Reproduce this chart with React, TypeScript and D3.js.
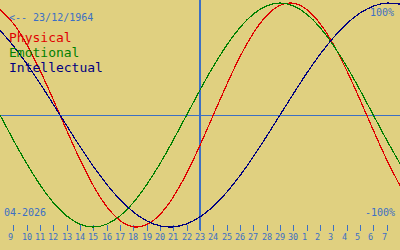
import React from "react";
import * as d3 from "d3";

// Days shown on the axis (April 9 .. May 7, 2026)
const dayLabels = [
  "9", "10", "11", "12", "13", "14", "15", "16", "17", "18", "19", "20", "21", "22",
  "23", "24", "25", "26", "27", "28", "29", "30", "1", "2", "3", "4", "5", "6", "7",
];

// Daily values from April 8 to May 8 (31 points)
const physical = [
  0.942, 0.817, 0.631, 0.398, 0.136, -0.136, -0.398, -0.631, -0.817, -0.942, -0.998,
  -0.979, -0.888, -0.731, -0.52, -0.27, 0, 0.27, 0.52, 0.731, 0.888, 0.979, 0.998,
  0.942, 0.817, 0.631, 0.398, 0.136, -0.136, -0.398, -0.631,
];
const emotional = [
  0, -0.223, -0.434, -0.623, -0.782, -0.901, -0.975, -1, -0.975, -0.901, -0.782,
  -0.623, -0.434, -0.223, 0, 0.223, 0.434, 0.623, 0.782, 0.901, 0.975, 1, 0.975,
  0.901, 0.782, 0.623, 0.434, 0.223, 0, -0.223, -0.434,
];
const intellectual = [
  0.756, 0.618, 0.458, 0.282, 0.095, -0.095, -0.282, -0.458, -0.618, -0.756, -0.866,
  -0.945, -0.99, -0.999, -0.972, -0.91, -0.815, -0.69, -0.541, -0.372, -0.189, 0,
  0.189, 0.372, 0.541, 0.69, 0.815, 0.91, 0.972, 0.999, 0.99,
];

const seriesNames = ["Physical", "Emotional", "Intellectual"];
const seriesColors = ["#e00000", "#008000", "#000080"];
const todayIndex = 15; // 23/04
const birthLabel = "<-- 23/12/1964";
const monthLabel = "04-2026";
const topLabel = "100%";
const bottomLabel = "-100%";

const W = 400;
const H = 250;
const BG = "#e0d080";
const AXIS_BLUE = "#3c6fc4";
const FONT = "'DejaVu Sans Mono', monospace";

export default function App() {
  const x = d3.scaleLinear().domain([0, 30]).range([0, W]);
  const y = d3.scaleLinear().domain([-1, 1]).range([227, 3]);
  const line = d3
    .line<number>()
    .x((_, i) => x(i))
    .y((d) => y(d))
    .curve(d3.curveNatural);
  const series = [physical, emotional, intellectual];
  const zeroY = Math.round(y(0)) + 0.5;

  return (
    <svg
      width={W}
      height={H}
      style={{ position: "fixed", left: 0, top: 0, display: "block" }}
    >
      <rect x={0} y={0} width={W} height={H} fill={BG} />
      {/* zero line */}
      <line x1={0} x2={W} y1={zeroY} y2={zeroY} stroke={AXIS_BLUE} strokeWidth={1} shapeRendering="crispEdges" />
      {/* today line */}
      <line
        x1={x(todayIndex)}
        x2={x(todayIndex)}
        y1={0}
        y2={230}
        stroke={AXIS_BLUE}
        strokeWidth={2}
        shapeRendering="crispEdges"
      />
      {/* ticks */}
      {dayLabels.map((lab, k) => {
        const tx = Math.round(x(k + 1)) + 0.5;
        return (
          <g key={k}>
            <line x1={tx} x2={tx} y1={225} y2={231} stroke={AXIS_BLUE} strokeWidth={1} shapeRendering="crispEdges" />
            <text x={tx - 5.5} y={240} fill={AXIS_BLUE} fontFamily={FONT} fontSize={8.5}>
              {lab}
            </text>
          </g>
        );
      })}
      {/* curves */}
      {series.map((s, k) => (
        <path
          key={k}
          d={line(s) || ""}
          fill="none"
          stroke={seriesColors[k]}
          strokeWidth={1.2}
          shapeRendering="crispEdges"
        />
      ))}
      {/* labels */}
      <text x={9} y={21} fill={AXIS_BLUE} fontFamily={FONT} fontSize={10}>
        {birthLabel}
      </text>
      {seriesNames.map((n, k) => (
        <text key={n} x={9} y={42 + k * 15} fill={seriesColors[k]} fontFamily={FONT} fontSize={13}>
          {n}
        </text>
      ))}
      <text x={394} y={16} fill={AXIS_BLUE} fontFamily={FONT} fontSize={10} textAnchor="end">
        {topLabel}
      </text>
      <text x={395} y={216} fill={AXIS_BLUE} fontFamily={FONT} fontSize={10} textAnchor="end">
        {bottomLabel}
      </text>
      <text x={4} y={216} fill={AXIS_BLUE} fontFamily={FONT} fontSize={10}>
        {monthLabel}
      </text>
    </svg>
  );
}
